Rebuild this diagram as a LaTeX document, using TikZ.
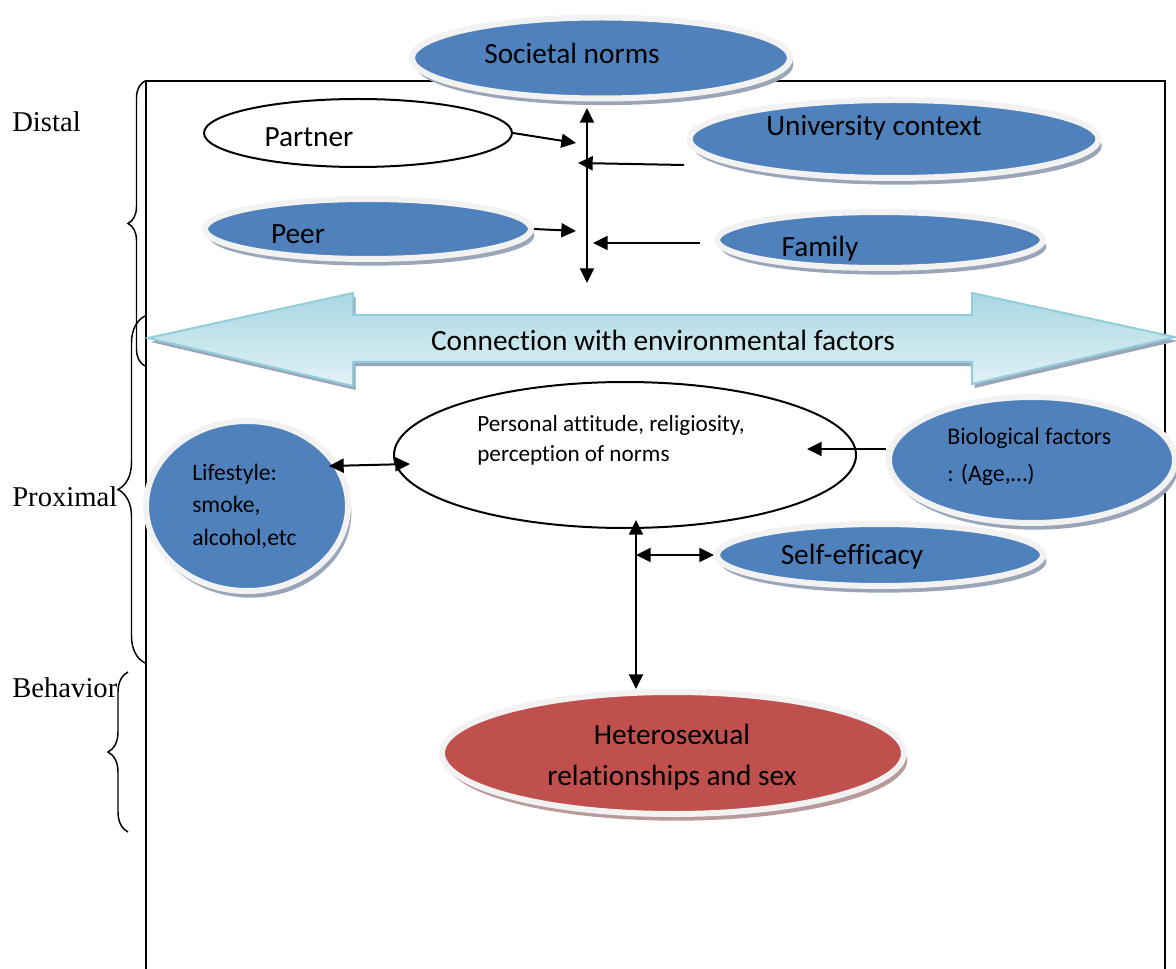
\documentclass[tikz,border=0pt]{standalone}
\usepackage{fontspec}
\setmainfont{Carlito}[Ligatures=NoCommon]
\newfontfamily\serifface{Liberation Serif}
\usetikzlibrary{shapes.geometric,arrows.meta,shadows,decorations.pathreplacing}

\definecolor{blueFill}{HTML}{4F81BD}
\definecolor{redFill}{HTML}{C0504D}
\definecolor{ringGray}{HTML}{F2F2F2}
\definecolor{rimBlue}{HTML}{9AA6B8}
\definecolor{rimRed}{HTML}{B89A9A}
\definecolor{arrowTop}{HTML}{A9D7E3}
\definecolor{arrowBot}{HTML}{E2F2F6}
\definecolor{arrowLine}{HTML}{92CDDC}

\tikzset{
  dims/.style 2 args={minimum width=#1*0.75pt, minimum height=#2*0.75pt},
  bub/.style={ellipse, inner sep=0pt, draw=ringGray, line width=4.5pt},
  bluebub/.style={bub, fill=blueFill, general shadow={fill=rimBlue, shadow xshift=2.5pt, shadow yshift=-5pt}},
  redbub/.style={bub, fill=redFill, general shadow={fill=rimRed, shadow xshift=2.5pt, shadow yshift=-5pt}},
  outline/.style={ellipse, inner sep=0pt, draw=black, line width=1.5pt},
  big/.style={font=\fontsize{22}{26}\selectfont},
  note/.style={align=left, anchor=west, inner sep=0pt},
  level/.style={font=\serifface\fontsize{21.5}{26}\selectfont, anchor=west, inner sep=0pt},
  arr/.style={-{Triangle[length=11pt,width=10.5pt]}, line width=1.5pt},
  biarr/.style={{Triangle[length=11pt,width=10.5pt]}-{Triangle[length=11pt,width=10.5pt]}, line width=1.5pt},
  curl/.style={decorate, decoration={brace, amplitude=#1*0.75pt}, line width=1.1pt}
}

\begin{document}
\begin{tikzpicture}[x=0.75pt, y=-0.75pt]
\useasboundingbox (0,0) rectangle (1176,969);

\draw[line width=1.1pt] (146,969) -- (146,81) -- (1165,81) -- (1165,969);

\draw[draw=arrowLine, line width=1.5pt, top color=arrowTop, bottom color=arrowBot,
      general shadow={fill=rimBlue, shadow xshift=2pt, shadow yshift=-3pt}]
  (148,338) -- (353,293) -- (353,315) -- (972,315) -- (972,293) -- (1175,337)
  -- (972,384) -- (972,362) -- (353,362) -- (353,386) -- cycle;
\node[big] (conn) at (663,340) {Connection with environmental factors};

\node[bluebub, dims={378}{81}] (soc) at (601,58) {};
\node[outline, dims={308}{68}] (partner) at (358,133) {};
\node[bluebub, dims={409}{78}] (uni) at (894,139) {};
\node[bluebub, dims={326}{60}] (peer) at (368,229) {};
\node[bluebub, dims={326}{56}] (family) at (880,240) {};
\node[big] (socT) at (572,53) {Societal norms};
\node[big] (partnerT) at (309,137) {Partner};
\node[big] (uniT) at (874,128) {University context};
\node[big] (peerT) at (298,234) {Peer};
\node[big] (familyT) at (820,249) {Family};

\node[outline, dims={462}{146}] (pers) at (625,455) {};
\node[bluebub, dims={202}{170}] (life) at (247,506) {};
\node[bluebub, dims={286}{126}] (bio) at (1032,460) {};
\node[bluebub, dims={326}{62}] (self) at (880,555) {};
\node[redbub, dims={462}{122}] (het) at (673,753) {};
\node[note, font=\fontsize{17.4}{22.5}\selectfont] (persT) at (477,440) {Personal attitude, religiosity,\\perception of norms};
\node[note, font=\fontsize{17.7}{24.4}\selectfont] (lifeT) at (192,506) {Lifestyle:\\smoke,\\alcohol,etc};
\node[note, font=\fontsize{17.9}{27.7}\selectfont] (bioT) at (947,457) {Biological factors\\: (Age,\dots)};
\node[big] (selfT) at (852,557) {Self-efficacy};
\node[big, align=center, font=\fontsize{22}{31}\selectfont] (hetT) at (672,757) {Heterosexual\\relationships and sex};

\coordinate (vTop) at (587,108);
\coordinate (vBot) at (587,283);
\coordinate (partnerIn) at (576,143);
\coordinate (uniOut) at (684,165);
\coordinate (uniIn) at (578,163);
\coordinate (peerIn) at (576,231);
\coordinate (familyOut) at (700,243);
\coordinate (familyIn) at (593,243);
\coordinate (lifeR) at (329,466);
\coordinate (persL) at (410,464);
\coordinate (persR) at (807,449);
\coordinate (persB) at (636,520);

\draw[biarr] (vTop) -- (vBot);
\draw[arr] (partner.east) -- (partnerIn);
\draw[arr] (uniOut) -- (uniIn);
\draw[arr] (peer.east) -- (peerIn);
\draw[arr] (familyOut) -- (familyIn);
\draw[biarr] (lifeR) -- (persL);
\draw[arr] (bio.west |- persR) -- (persR);
\draw[biarr] (persB) -- (persB |- het.north);
\draw[biarr] (persB |- self.west) -- (self.west);

\node[level] (distal) at (12,122) {Distal};
\node[level] (proximal) at (12,497) {Proximal};
\node[level] (behavior) at (12,688) {Behavior};
\draw[curl=17] (145,366) -- (145,81);
\draw[curl=27] (145,663) -- (145,316);
\draw[curl=20] (128,832) -- (128,672);

\end{tikzpicture}
\end{document}
